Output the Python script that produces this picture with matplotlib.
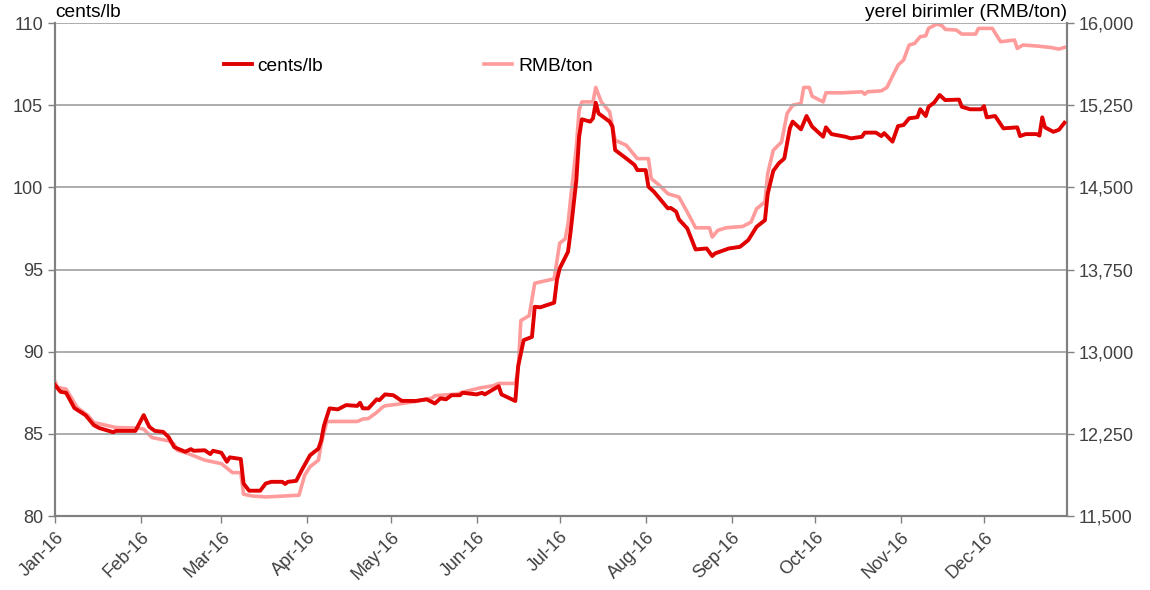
import matplotlib
matplotlib.use('Agg')
import matplotlib.pyplot as plt
import matplotlib.dates as mdates
import matplotlib.ticker as mticker
import pandas as pd

plt.rcParams['font.family'] = ['Liberation Sans', 'DejaVu Sans']

# cents/lb (left axis)
cents_dates = ['2016-01-01', '2016-01-03', '2016-01-05', '2016-01-08', '2016-01-12', '2016-01-15',
               '2016-01-17', '2016-01-22', '2016-01-23', '2016-01-30', '2016-02-02', '2016-02-04',
               '2016-02-06', '2016-02-09', '2016-02-11', '2016-02-13', '2016-02-17', '2016-02-19',
               '2016-02-20', '2016-02-24', '2016-02-26', '2016-02-27', '2016-03-01', '2016-03-03',
               '2016-03-04', '2016-03-08', '2016-03-09', '2016-03-11', '2016-03-15', '2016-03-17',
               '2016-03-19', '2016-03-23', '2016-03-24', '2016-03-25', '2016-03-28', '2016-03-30',
               '2016-04-02', '2016-04-05', '2016-04-06', '2016-04-07', '2016-04-09', '2016-04-12',
               '2016-04-15', '2016-04-19', '2016-04-20', '2016-04-21', '2016-04-23', '2016-04-26',
               '2016-04-27', '2016-04-29', '2016-05-02', '2016-05-05', '2016-05-10', '2016-05-14',
               '2016-05-17', '2016-05-19', '2016-05-21', '2016-05-23', '2016-05-26', '2016-05-27',
               '2016-06-01', '2016-06-03', '2016-06-04', '2016-06-09', '2016-06-10', '2016-06-15',
               '2016-06-16', '2016-06-18', '2016-06-21', '2016-06-22', '2016-06-24', '2016-06-29',
               '2016-06-30', '2016-07-01', '2016-07-04', '2016-07-05', '2016-07-07', '2016-07-08',
               '2016-07-09', '2016-07-12', '2016-07-13', '2016-07-14', '2016-07-15', '2016-07-19',
               '2016-07-20', '2016-07-21', '2016-07-25', '2016-07-28', '2016-07-29', '2016-08-01',
               '2016-08-02', '2016-08-04', '2016-08-06', '2016-08-09', '2016-08-10', '2016-08-12',
               '2016-08-13', '2016-08-16', '2016-08-19', '2016-08-23', '2016-08-25', '2016-08-26',
               '2016-08-31', '2016-09-04', '2016-09-07', '2016-09-10', '2016-09-13', '2016-09-14',
               '2016-09-16', '2016-09-18', '2016-09-20', '2016-09-22', '2016-09-23', '2016-09-26',
               '2016-09-28', '2016-09-30', '2016-10-04', '2016-10-05', '2016-10-07', '2016-10-12',
               '2016-10-14', '2016-10-18', '2016-10-19', '2016-10-23', '2016-10-25', '2016-10-26',
               '2016-10-29', '2016-10-31', '2016-11-02', '2016-11-04', '2016-11-07', '2016-11-08',
               '2016-11-10', '2016-11-11', '2016-11-13', '2016-11-15', '2016-11-17', '2016-11-22',
               '2016-11-23', '2016-11-26', '2016-11-30', '2016-12-01', '2016-12-02', '2016-12-05',
               '2016-12-08', '2016-12-13', '2016-12-14', '2016-12-16', '2016-12-20', '2016-12-21',
               '2016-12-22', '2016-12-23', '2016-12-26', '2016-12-28', '2016-12-30']
cents = [87.97, 87.56, 87.5, 86.57, 86.14, 85.53,
         85.35, 85.1, 85.18, 85.18, 86.14, 85.43,
         85.18, 85.12, 84.8, 84.19, 83.91, 84.07,
         83.97, 84.0, 83.77, 83.97, 83.85, 83.3,
         83.57, 83.47, 81.98, 81.54, 81.54, 81.98,
         82.08, 82.08, 81.95, 82.08, 82.14, 82.8,
         83.7, 84.1, 84.6, 85.5, 86.55, 86.49,
         86.75, 86.7, 86.89, 86.55, 86.55, 87.1,
         87.05, 87.4, 87.35, 87.01, 87.0, 87.1,
         86.85, 87.16, 87.1, 87.35, 87.35, 87.5,
         87.4, 87.5, 87.4, 87.9, 87.4, 87.0,
         89.1, 90.7, 90.9, 92.73, 92.7, 92.98,
         94.36, 95.07, 96.08, 97.4, 100.44, 103.08,
         104.14, 104.0, 104.2, 105.15, 104.5, 104.0,
         103.7, 102.27, 101.76, 101.36, 101.05, 101.05,
         100.04, 99.73, 99.33, 98.72, 98.75, 98.52,
         98.05, 97.5, 96.22, 96.28, 95.82, 95.98,
         96.28, 96.38, 96.79, 97.6, 98.0, 99.6,
         101.0, 101.46, 101.76, 103.6, 104.0, 103.53,
         104.34, 103.7, 103.08, 103.65, 103.24, 103.08,
         102.98, 103.08, 103.33, 103.33, 103.12, 103.3,
         102.78, 103.73, 103.79, 104.2, 104.27, 104.75,
         104.34, 104.9, 105.15, 105.62, 105.31, 105.34,
         104.9, 104.75, 104.75, 104.94, 104.26, 104.34,
         103.59, 103.65, 103.12, 103.24, 103.24, 103.15,
         104.26, 103.65, 103.38, 103.5, 103.93]

# RMB/ton (right axis)
rmb_dates = ['2016-01-01', '2016-01-02', '2016-01-05', '2016-01-09', '2016-01-13', '2016-01-15',
             '2016-01-23', '2016-01-31', '2016-02-02', '2016-02-05', '2016-02-11', '2016-02-13',
             '2016-02-14', '2016-02-18', '2016-02-24', '2016-03-01', '2016-03-05', '2016-03-08',
             '2016-03-09', '2016-03-12', '2016-03-17', '2016-03-24', '2016-03-29', '2016-03-31',
             '2016-04-02', '2016-04-05', '2016-04-06', '2016-04-08', '2016-04-19', '2016-04-21',
             '2016-04-23', '2016-04-26', '2016-04-28', '2016-04-29', '2016-05-04', '2016-05-10',
             '2016-05-16', '2016-05-17', '2016-05-25', '2016-05-28', '2016-06-02', '2016-06-07',
             '2016-06-09', '2016-06-15', '2016-06-16', '2016-06-17', '2016-06-20', '2016-06-22',
             '2016-06-29', '2016-07-01', '2016-07-03', '2016-07-04', '2016-07-05', '2016-07-07',
             '2016-07-08', '2016-07-09', '2016-07-13', '2016-07-14', '2016-07-16', '2016-07-19',
             '2016-07-21', '2016-07-25', '2016-07-29', '2016-08-02', '2016-08-03', '2016-08-06',
             '2016-08-09', '2016-08-13', '2016-08-14', '2016-08-16', '2016-08-19', '2016-08-24',
             '2016-08-25', '2016-08-27', '2016-08-30', '2016-09-05', '2016-09-08', '2016-09-10',
             '2016-09-13', '2016-09-14', '2016-09-16', '2016-09-19', '2016-09-21', '2016-09-23',
             '2016-09-26', '2016-09-27', '2016-09-29', '2016-09-30', '2016-10-04', '2016-10-05',
             '2016-10-11', '2016-10-18', '2016-10-19', '2016-10-20', '2016-10-25', '2016-10-27',
             '2016-10-31', '2016-11-02', '2016-11-04', '2016-11-06', '2016-11-08', '2016-11-10',
             '2016-11-11', '2016-11-14', '2016-11-16', '2016-11-17', '2016-11-21', '2016-11-23',
             '2016-11-28', '2016-11-29', '2016-12-04', '2016-12-07', '2016-12-12', '2016-12-13',
             '2016-12-15', '2016-12-20', '2016-12-25', '2016-12-28', '2016-12-30']
rmb = [12728, 12674, 12659, 12491, 12415, 12353,
       12308, 12302, 12293, 12216, 12186, 12156,
       12101, 12070, 12010, 11978, 11896, 11896,
       11699, 11683, 11674, 11683, 11690, 11870,
       11950, 12010, 12156, 12363, 12363, 12385,
       12390, 12445, 12491, 12506, 12522, 12546,
       12577, 12598, 12613, 12637, 12668, 12689,
       12710, 12710, 12826, 13284, 13329, 13625,
       13665, 13991, 14030, 14168, 14411, 14869,
       15204, 15280, 15280, 15412, 15280, 15189,
       14930, 14884, 14762, 14762, 14580, 14518,
       14442, 14411, 14366, 14274, 14131, 14131,
       14046, 14107, 14131, 14143, 14183, 14305,
       14366, 14625, 14838, 14914, 15174, 15250,
       15266, 15412, 15412, 15332, 15280, 15363,
       15363, 15372, 15350, 15372, 15381, 15412,
       15616, 15662, 15799, 15814, 15875, 15884,
       15951, 15991, 15973, 15942, 15936, 15899,
       15899, 15951, 15951, 15829, 15845, 15768,
       15799, 15790, 15777, 15762, 15777]

left_ticks = [80, 85, 90, 95, 100, 105, 110]
right_ticks = [11500, 12250, 13000, 13750, 14500, 15250, 16000]

red = '#E00000'
pink = '#FF9B9B'
axis_grey = '#808080'
label_col = '#404040'

fig = plt.figure(figsize=(11.5, 5.9), dpi=100)
ax = fig.add_axes([0.0478, 0.1254, 0.8802, 0.8356])
ax2 = ax.twinx()

cd = pd.to_datetime(cents_dates)
rd = pd.to_datetime(rmb_dates)

l1, = ax.plot(cd, cents, color=red, lw=2.8, label='cents/lb', zorder=3)
l2, = ax2.plot(rd, rmb, color=pink, lw=2.6, label='RMB/ton', zorder=2)
ax.set_zorder(ax2.get_zorder() + 1)
ax.patch.set_visible(False)

ax.set_ylim(80, 110)
ax.set_yticks(left_ticks)
ax2.set_ylim(11500, 16000)
ax2.set_yticks(right_ticks)
ax2.yaxis.set_major_formatter(mticker.FuncFormatter(lambda v, p: '{:,.0f}'.format(v)))

ax.set_xlim(pd.Timestamp('2016-01-01'), pd.Timestamp('2016-12-31'))
ax.xaxis.set_major_locator(mdates.MonthLocator())
ax.xaxis.set_major_formatter(mdates.DateFormatter('%b-%y'))
for lab in ax.get_xticklabels():
    lab.set_rotation(45)
    lab.set_ha('right')
    lab.set_rotation_mode('anchor')

ax2.grid(False)
ax.grid(axis='y', color='#A6A6A6', lw=1.3)
ax.set_axisbelow(True)

for a in (ax, ax2):
    for s in a.spines.values():
        s.set_color(axis_grey)
        s.set_linewidth(1.5)
    a.spines['top'].set_visible(False)
    a.tick_params(colors=axis_grey, labelcolor=label_col, labelsize=13, length=5, width=1)
ax.tick_params(axis='x', pad=4)

ax.text(0.0, 1.004, 'cents/lb', transform=ax.transAxes, fontsize=13.8, ha='left', va='bottom', color='#000000')
ax.text(1.0, 1.004, 'yerel birimler (RMB/ton)', transform=ax.transAxes, fontsize=13.8,
        ha='right', va='bottom', color='#000000')

ax.legend(handles=[l1, l2], loc='center left', bbox_to_anchor=(0.150, 0.912), ncol=2,
          frameon=False, fontsize=13.8, handlelength=1.45, handletextpad=0.3, columnspacing=8.4)

fig.savefig('out.png', dpi=100)
